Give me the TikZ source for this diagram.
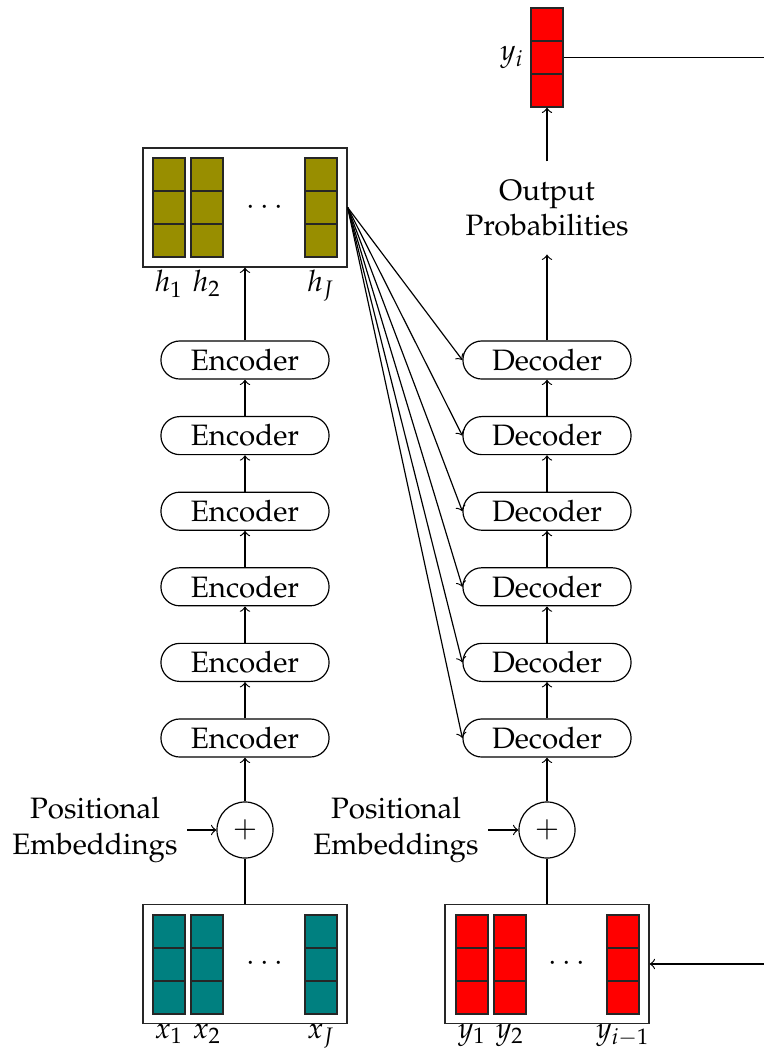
\documentclass[tikz,border=0pt]{standalone}
\usepackage[T1]{fontenc}
\usepackage{mathpazo}
\definecolor{myolive}{RGB}{152,142,0}
\definecolor{myteal}{RGB}{0,128,128}
\definecolor{myred}{RGB}{255,0,0}
\newcommand{\vcolumn}[3]{%
  \fill[#3] ({#1-16},#2) rectangle ++(32,99);
  \draw[cellline] ({#1-16},#2) rectangle ++(32,99);
  \draw[cellline] ({#1-16},{#2+33}) -- ++(32,0);
  \draw[cellline] ({#1-16},{#2+66}) -- ++(32,0);}
\begin{document}
\begin{tikzpicture}[x=0.339pt,y=-0.339pt,
  font=\fontsize{10}{12}\selectfont,
  every node/.style={inner sep=3pt},
  cellline/.style={draw=black!85, line width=0.55pt},
  coder/.style={draw, rounded corners=6.4pt, minimum width=57pt, minimum height=12.9pt, inner sep=0pt},
  container/.style={draw=black!85, minimum width=69.2pt, minimum height=40.3pt, inner sep=0pt},
  plusnode/.style={draw, circle, minimum size=19pt, inner sep=0pt},
  lbl/.style={inner sep=0.5pt, anchor=north},
  arr/.style={->}]
\useasboundingbox (0,0) rectangle (764,1052);

% containers
\node[container] (hbox) at (245,207.5) {};
\node[container] (xbox) at (245,964) {};
\node[container] (ybox) at (547,964) {};

% vectors in containers
\vcolumn{169}{158}{myolive}
\vcolumn{207}{158}{myolive}
\vcolumn{321}{158}{myolive}
\vcolumn{169}{915}{myteal}
\vcolumn{207}{915}{myteal}
\vcolumn{321}{915}{myteal}
\vcolumn{472}{915}{myred}
\vcolumn{510}{915}{myred}
\vcolumn{623}{915}{myred}

\node (hdots) at (265,207.5) {$\cdots$};
\node (xdots) at (265,964) {$\cdots$};
\node (ydots) at (567,964) {$\cdots$};

% labels
\node[lbl] (h1) at (169,268) {$h_1$};
\node[lbl] (h2) at (207,268) {$h_2$};
\node[lbl] (hJ) at (321,268) {$h_J$};
\node[lbl] (x1) at (169,1022) {$x_1$};
\node[lbl] (x2) at (207,1022) {$x_2$};
\node[lbl] (xJ) at (321,1022) {$x_J$};
\node[lbl] (y1) at (472,1022) {$y_1$};
\node[lbl] (y2) at (510,1022) {$y_2$};
\node[lbl] (yim) at (623,1022) {$y_{i-1}$};

% output vector
\node[minimum width=10.85pt, minimum height=33.56pt, inner sep=0pt] (yi) at (547,57.5) {};
\vcolumn{547}{8}{myred}
\node[anchor=east, inner sep=2pt] (yilbl) at (yi.west) {$y_i$};

% encoders and decoders
\foreach \i/\y in {1/360,2/435.6,3/511.2,4/586.8,5/662.4,6/738} {
  \node[coder] (enc\i) at (245,\y) {Encoder};
  \node[coder] (dec\i) at (547,\y) {Decoder};
}
\foreach \a/\b in {2/1,3/2,4/3,5/4,6/5} {
  \draw[arr] (enc\a) -- (enc\b);
  \draw[arr] (dec\a) -- (dec\b);
}
\draw[arr] (enc1) -- (hbox);

% attention lines
\foreach \i in {1,...,6}
  \draw[arr] (hbox.east) -- (dec\i.west);

% output
\node[align=center, inner sep=6pt] (op) at (547,208) {Output\\Probabilities};
\draw[arr] (dec1) -- (op);
\draw[arr] (op) -- (yi);

% plus nodes
\node[plusnode] (penc) at (245,830) {$+$};
\node[plusnode] (pdec) at (547,830) {$+$};
\draw[arr] (penc) -- (enc6);
\draw[arr] (pdec) -- (dec6);
\draw (xbox) -- (penc);
\draw (ybox) -- (pdec);

\node[align=center] (pe1) at (95,830) {Positional\\Embeddings};
\node[align=center] (pe2) at (396,830) {Positional\\Embeddings};
\draw[arr] (pe1) -- (penc);
\draw[arr] (pe2) -- (pdec);

% feedback
\coordinate (r1) at (764,57.5);
\coordinate (r2) at (764,964);
\draw (yi.east) -- (r1);
\draw[arr] (r2) -- (ybox.east);
\end{tikzpicture}
\end{document}
